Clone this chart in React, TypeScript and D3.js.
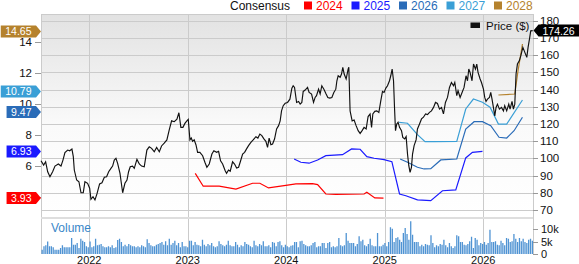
import React from "react";
import * as d3 from "d3";

const W = 579;
const H = 264;
const FONT = "'Liberation Sans', Arial, sans-serif";

// ---- Price (decimal year, $) ----
const priceYears = [
  2021.510, 2021.537, 2021.557, 2021.578, 2021.601, 2021.628, 2021.652, 2021.686, 2021.713, 2021.733,
  2021.753, 2021.781, 2021.801, 2021.824, 2021.838, 2021.848, 2021.872, 2021.895, 2021.916, 2021.939,
  2021.956, 2021.983, 2022.004, 2022.017, 2022.038, 2022.058, 2022.078, 2022.105, 2022.129, 2022.153,
  2022.176, 2022.197, 2022.220, 2022.237, 2022.254, 2022.271, 2022.288, 2022.312, 2022.339, 2022.362,
  2022.383, 2022.399, 2022.416, 2022.440, 2022.457, 2022.484, 2022.508, 2022.531, 2022.558, 2022.585,
  2022.609, 2022.633, 2022.660, 2022.684, 2022.711, 2022.734, 2022.761, 2022.788, 2022.812, 2022.836,
  2022.863, 2022.890, 2022.910, 2022.930, 2022.951, 2022.971, 2022.991, 2023.005, 2023.022, 2023.035,
  2023.049, 2023.065, 2023.083, 2023.100, 2023.123, 2023.151, 2023.174, 2023.194, 2023.218, 2023.245,
  2023.265, 2023.293, 2023.313, 2023.333, 2023.354, 2023.380, 2023.394, 2023.414, 2023.431, 2023.455,
  2023.475, 2023.496, 2023.516, 2023.532, 2023.557, 2023.577, 2023.597, 2023.617, 2023.641, 2023.664,
  2023.692, 2023.712, 2023.732, 2023.752, 2023.773, 2023.793, 2023.810, 2023.826, 2023.844, 2023.861,
  2023.881, 2023.902, 2023.922, 2023.938, 2023.952, 2023.969, 2023.989, 2024.013, 2024.037, 2024.057,
  2024.070, 2024.084, 2024.105, 2024.125, 2024.141, 2024.158, 2024.172, 2024.192, 2024.216, 2024.232,
  2024.257, 2024.277, 2024.293, 2024.307, 2024.328, 2024.344, 2024.361, 2024.382, 2024.402, 2024.422,
  2024.442, 2024.463, 2024.483, 2024.503, 2024.514, 2024.527, 2024.547, 2024.561, 2024.574, 2024.588,
  2024.608, 2024.628, 2024.635, 2024.648, 2024.669, 2024.689, 2024.709, 2024.730, 2024.750, 2024.770,
  2024.790, 2024.811, 2024.831, 2024.851, 2024.866, 2024.879, 2024.899, 2024.919, 2024.940, 2024.960,
  2024.977, 2024.993, 2025.011, 2025.028, 2025.048, 2025.061, 2025.075, 2025.089, 2025.099, 2025.109,
  2025.122, 2025.135, 2025.150, 2025.170, 2025.183, 2025.203, 2025.217, 2025.231, 2025.244, 2025.257,
  2025.271, 2025.282, 2025.298, 2025.318, 2025.332, 2025.353, 2025.373, 2025.393, 2025.414, 2025.434,
  2025.454, 2025.474, 2025.495, 2025.515, 2025.535, 2025.556, 2025.576, 2025.596, 2025.616, 2025.637,
  2025.657, 2025.677, 2025.698, 2025.711, 2025.731, 2025.744, 2025.765, 2025.785, 2025.805, 2025.825,
  2025.840, 2025.853, 2025.866, 2025.886, 2025.901, 2025.921, 2025.934, 2025.947, 2025.968, 2025.982,
  2026.002, 2026.015, 2026.028, 2026.043, 2026.063, 2026.076, 2026.089, 2026.103, 2026.117, 2026.130,
  2026.144, 2026.164, 2026.185, 2026.205, 2026.218, 2026.238, 2026.259, 2026.272, 2026.292, 2026.306,
  2026.320, 2026.333, 2026.347, 2026.367, 2026.381, 2026.402, 2026.422, 2026.442, 2026.455, 2026.469,
  2026.482, 2026.502,
];
const priceValues = [
  98.6, 96.1, 98.0, 92.2, 89.3, 92.2, 95.5, 96.7, 95.5, 99.0,
  103.3, 104.8, 104.4, 105.4, 101.0, 93.2, 87.4, 86.4, 80.0, 80.0,
  86.4, 85.5, 82.6, 76.2, 77.7, 75.8, 79.3, 85.1, 85.8, 89.0,
  89.3, 92.2, 94.2, 95.5, 99.0, 100.0, 97.1, 91.3, 80.0, 85.5,
  87.4, 92.2, 95.1, 95.5, 94.2, 99.4, 96.7, 95.5, 95.1, 104.8,
  106.7, 105.8, 103.8, 106.3, 103.8, 107.2, 108.8, 110.7, 116.5, 121.8,
  121.3, 122.7, 126.5, 118.0, 118.0, 120.3, 121.8, 122.7, 110.7, 111.8,
  109.9, 110.8, 107.9, 103.5, 103.5, 101.5, 97.7, 94.8, 96.7, 102.5,
  104.4, 103.5, 104.1, 98.6, 96.7, 92.8, 91.3, 93.2, 92.5, 98.0,
  96.7, 94.4, 94.8, 97.7, 102.5, 103.5, 105.5, 107.4, 109.3, 110.7,
  112.6, 111.8, 114.1, 113.2, 111.3, 109.9, 106.4, 111.8, 107.9, 108.3,
  111.2, 117.1, 119.0, 121.8, 127.6, 130.6, 132.0, 132.5, 134.4, 140.8,
  142.2, 141.2, 132.5, 133.1, 131.5, 132.5, 138.9, 139.7, 141.2, 138.3,
  137.4, 132.5, 135.4, 136.4, 140.2, 137.4, 142.2, 140.2, 137.7, 135.4,
  135.0, 135.4, 138.3, 140.2, 145.1, 148.0, 147.1, 149.0, 152.9, 149.0,
  146.1, 151.9, 152.9, 127.6, 121.8, 122.3, 119.0, 116.1, 114.5, 116.1,
  118.0, 117.1, 124.3, 125.8, 118.0, 125.8, 127.3, 127.6, 126.7, 133.5,
  138.9, 138.3, 140.8, 142.2, 145.1, 148.0, 151.9, 145.1, 129.6, 116.1,
  120.0, 121.0, 118.0, 116.1, 112.2, 111.3, 112.6, 102.5, 95.7, 91.9,
  94.8, 102.5, 107.4, 110.7, 117.1, 120.0, 122.9, 123.9, 125.8, 125.4,
  126.7, 127.6, 129.6, 132.5, 131.9, 128.6, 129.6, 125.8, 132.5, 135.4,
  141.2, 144.1, 142.2, 144.1, 136.4, 139.3, 135.4, 138.3, 141.2, 148.0,
  145.1, 151.9, 150.0, 145.1, 154.8, 151.9, 154.8, 150.0, 146.1, 144.1,
  140.2, 135.4, 133.1, 134.4, 135.4, 138.3, 134.4, 129.6, 124.7, 129.6,
  131.5, 128.6, 129.6, 127.6, 130.6, 127.6, 131.5, 128.6, 133.1, 128.6,
  131.5, 149.0, 154.8, 156.8, 159.6, 164.5, 161.6, 158.7, 164.5, 169.3,
  174.1, 174.26,
];

// ---- Consensus EPS estimates (decimal year, EPS) ----
const eps2024Years = [2023.076, 2023.157, 2023.319, 2023.489, 2023.658, 2023.732, 2023.820, 2023.996, 2024.098, 2024.267, 2024.318, 2024.402, 2024.503, 2024.790, 2024.818, 2024.899, 2024.987];
const eps2024Values = [5.52, 4.69, 4.69, 4.51, 4.88, 4.88, 4.58, 4.75, 4.84, 4.86, 4.79, 4.19, 4.17, 4.19, 4.30, 3.94, 3.93];
const eps2025Years = [2024.080, 2024.148, 2024.232, 2024.318, 2024.402, 2024.571, 2024.663, 2024.750, 2024.818, 2024.892, 2024.993, 2025.072, 2025.150, 2025.214, 2025.332, 2025.467, 2025.586, 2025.721, 2025.822, 2025.890, 2025.992];
const eps2025Values = [6.44, 6.23, 6.17, 6.38, 6.66, 6.72, 7.09, 7.07, 6.59, 6.49, 6.40, 6.27, 4.19, 4.08, 3.81, 3.76, 4.40, 4.45, 6.51, 6.87, 6.93];
const eps2026Years = [2025.156, 2025.231, 2025.332, 2025.399, 2025.467, 2025.569, 2025.731, 2025.822, 2025.907, 2025.992, 2026.076, 2026.160, 2026.238, 2026.313, 2026.398];
const eps2026Values = [6.44, 6.23, 5.91, 5.80, 5.82, 6.38, 6.44, 8.37, 8.84, 8.84, 8.59, 7.84, 7.79, 8.26, 9.13];
const eps2027Years = [2025.146, 2025.231, 2025.332, 2025.409, 2025.501, 2025.731, 2025.822, 2025.900, 2025.992, 2026.069, 2026.154, 2026.238, 2026.398];
const eps2027Values = [8.80, 8.74, 8.01, 7.56, 7.56, 7.58, 9.66, 10.30, 10.09, 9.77, 8.69, 8.69, 10.24];
const eps2028Years = [2026.154, 2026.320, 2026.353, 2026.398];
const eps2028Values = [10.56, 10.62, 12.12, 13.84];

const seriesNames = ["2024", "2025", "2026", "2027", "2028"];
const seriesColors = ["#ff0000", "#1a1aff", "#2a6cb8", "#3a9fd6", "#b5822d"];
const latestEps = [3.93, 6.93, 9.47, 10.79, 14.65];
const latestPrice = 174.26;

// ---- Volume (thousands), one bar per week ----
const volumeValues = [
  1.7, 3.1, 3.5, 5.0, 3.1, 3.1, 2.7, 1.7, 1.7,
  1.7, 2.4, 3.5, 2.7, 2.7, 2.7, 2.7, 6.4, 3.7,
  3.7, 4.4, 2.4, 6.1, 5.3, 4.8, 3.1, 2.7, 5.0,
  2.7, 3.1, 6.1, 3.5, 3.7, 4.0, 3.1, 2.7, 2.7,
  3.1, 2.7, 3.5, 2.4, 2.7, 5.6, 6.1, 4.8, 3.1,
  3.7, 3.1, 4.0, 3.5, 3.1, 3.1, 2.7, 3.1, 2.7,
  3.5, 3.1, 2.7, 5.9, 4.4, 3.5, 3.1, 3.1, 3.7,
  4.0, 4.4, 4.8, 3.7, 5.1, 3.5, 6.1, 3.7, 4.4,
  5.3, 3.5, 4.4, 2.7, 4.8, 3.1, 3.1, 2.7, 5.3,
  5.3, 3.5, 4.8, 3.7, 3.5, 3.1, 5.7, 3.7, 3.1,
  4.0, 3.5, 4.4, 3.1, 2.7, 3.1, 5.1, 4.0, 3.5,
  3.1, 3.7, 5.3, 3.5, 3.1, 3.1, 4.8, 3.7, 2.7,
  3.5, 3.1, 4.8, 4.0, 3.7, 3.1, 2.7, 5.3, 3.5,
  3.1, 4.0, 3.5, 5.1, 3.1, 3.1, 3.5, 2.7, 4.8,
  4.5, 3.1, 4.8, 5.1, 3.5, 2.7, 3.7, 3.1, 2.7,
  3.3, 3.5, 4.8, 4.8, 2.7, 5.1,
  5.3, 4.0, 3.5, 3.1, 3.1, 3.5, 4.4, 4.8, 2.7,
  3.1, 3.1, 4.4, 4.4, 2.4, 4.4, 4.8, 2.7, 3.1,
  2.7, 3.1, 6.4, 3.5, 3.1, 3.5, 8.4, 5.3, 4.4,
  4.4, 4.4, 3.1, 4.0, 7.1, 5.1, 5.7, 3.5, 3.1,
  4.0, 6.1, 3.5, 3.1, 3.1, 8.4, 3.1, 3.1, 3.7,
  4.4, 3.1, 4.8, 10.7, 10.1, 4.8, 6.4, 6.7, 5.7,
  4.8, 8.4, 10.4, 8.0, 5.7, 13.1, 7.7, 4.8, 4.8,
  4.8, 3.1, 3.7, 3.1, 4.0, 3.7, 3.5, 7.5, 4.4,
  2.7, 3.5, 3.1, 4.0, 3.7, 5.7, 3.5, 2.7, 4.4,
  3.1, 2.4, 3.1, 7.5, 7.1, 4.8, 4.8, 3.7, 3.5,
  4.0, 5.1, 6.9, 2.4, 6.4, 5.7, 3.5, 4.4, 4.0,
  4.8, 3.7, 4.4, 9.7, 4.8, 4.8, 5.1, 3.7, 3.5,
  5.3, 4.4, 3.5, 6.4, 6.1, 4.8, 5.1, 8.0, 6.1,
  4.8, 6.4, 5.1, 6.1, 4.8, 4.4, 5.7, 6.1, 5.3,
];

const yearTicks = [2022, 2023, 2024, 2025, 2026];
const priceTicks = [70, 80, 90, 100, 110, 120, 130, 140, 150, 160, 170, 180];
const epsTicks = [4, 6, 8, 10, 12, 14];
const volumeTicks = [0, 5, 10];
const volumeTickLabels = ["0", "5k", "10k"];

function tagPath(x0: number, x1: number, tip: number, c: number, h: number) {
  return `M${x0},${c - h}L${x1},${c - h}L${tip},${c}L${x1},${c + h}L${x0},${c + h}Z`;
}

export default function App() {
  const L = 41, R = 533, T = 14, PB = 217, VT = 219, VB = 254;
  const x = d3.scaleLinear().domain([2021.51, 2026.505]).range([L, R]);
  const yP = d3.scaleLinear().domain([65.9, 183.9]).range([PB, T]);
  const yE = d3.scaleLinear().domain([2.71, 15.77]).range([PB, T]);
  const yV = d3.scaleLinear().domain([0, 14]).range([VB, VB - 35]);
  const band = d3.scaleBand<number>().domain(volumeValues.map((_, i) => i)).range([L + 0.5, R]).paddingInner(0.3);

  const priceLine = d3.line<number>().x((_, i) => x(priceYears[i])).y((v) => yP(v));
  const epsSeries = [
    [eps2024Years, eps2024Values],
    [eps2025Years, eps2025Values],
    [eps2026Years, eps2026Values],
    [eps2027Years, eps2027Values],
    [eps2028Years, eps2028Values],
  ];
  const charW = 5.84, dotW = 2.92;
  const tw = (s: string) => s.split("").reduce((a, ch) => a + (ch === "." ? dotW : charW), 0);

  return (
    <svg width={W} height={H} style={{ display: "block", position: "absolute", left: 0, top: 0 }} fontFamily={FONT}>
      <defs>
        <linearGradient id="bg" x1="0" y1="0" x2="0" y2="1">
          <stop offset="0" stopColor="#e2e2e2" />
          <stop offset="0.55" stopColor="#fafafa" />
          <stop offset="1" stopColor="#ffffff" />
        </linearGradient>
      </defs>
      <rect x={0} y={0} width={W} height={H} fill="#fff" />
      <rect x={L} y={T} width={R - L} height={PB - T} fill="url(#bg)" />
      {/* horizontal grid */}
      {priceTicks.map((p) => (
        <line key={p} x1={L} x2={R} y1={Math.round(yP(p)) + 0.5} y2={Math.round(yP(p)) + 0.5} stroke="#cbcbcb" />
      ))}
      <line x1={L} x2={R} y1={T + 0.5} y2={T + 0.5} stroke="#cbcbcb" />
      {/* vertical grid */}
      {yearTicks.map((yr) => (
        <line key={yr} x1={Math.round(x(yr)) + 0.5} x2={Math.round(x(yr)) + 0.5} y1={T} y2={VB} stroke="#cbcbcb" />
      ))}
      <line x1={L + 0.5} x2={L + 0.5} y1={T} y2={VB} stroke="#cbcbcb" />
      <line x1={R + 0.5} x2={R + 0.5} y1={T} y2={VB} stroke="#cbcbcb" />
      <rect x={L} y={PB} width={R - L} height={VT - PB} fill="#dedede" />

      {/* volume */}
      {volumeValues.map((v, i) => (
        <rect key={i} x={band(i)} y={yV(v)} width={band.bandwidth()} height={yV(0) - yV(v)} fill="#4f93d3" />
      ))}
      <text x={51} y={232} fontSize={12} fill="#3a87c9">Volume</text>

      {/* EPS lines */}
      {epsSeries.map(([yrs, vals], k) => (
        <path
          key={k}
          d={d3.line<number>().x((_, i) => x(yrs[i])).y((v) => yE(v))(vals) || ""}
          fill="none"
          stroke={seriesColors[k]}
          strokeWidth={1.2}
        />
      ))}
      {/* price */}
      <path d={priceLine(priceValues) || ""} fill="none" stroke="#111" strokeWidth={1.15} />

      {/* right axis */}
      {priceTicks.map((p) => (
        <g key={p}>
          <line x1={R} x2={R + 5} y1={Math.round(yP(p)) + 0.5} y2={Math.round(yP(p)) + 0.5} stroke="#999" />
          <text x={540} y={yP(p) + 4} fontSize={11.5} fill="#111">{p}</text>
        </g>
      ))}
      {volumeTicks.map((v, i) => (
        <g key={v}>
          <line x1={R} x2={R + 5} y1={Math.round(yV(v)) + 0.5} y2={Math.round(yV(v)) + 0.5} stroke="#999" />
          <text x={541} y={yV(v) + 4} fontSize={11} fill="#111">{volumeTickLabels[i]}</text>
        </g>
      ))}
      {/* left axis */}
      {epsTicks.map((e) => (
        <g key={e}>
          <line x1={35} x2={L} y1={Math.round(yE(e)) + 0.5} y2={Math.round(yE(e)) + 0.5} stroke="#999" />
          <text x={32} y={yE(e) + 4} fontSize={11.5} textAnchor="end" fill="#111">{e}</text>
        </g>
      ))}
      {/* x axis labels */}
      {yearTicks.map((yr) => (
        <text key={yr} x={x(yr)} y={264} fontSize={11} textAnchor="middle" fill="#111">{yr}</text>
      ))}

      {/* left tags */}
      {latestEps.map((e, k) => {
        const s = e.toFixed(2);
        const c = yE(e);
        const x1 = 36;
        const x0 = x1 - tw(s) - 9;
        return (
          <g key={k}>
            <path d={tagPath(x0, x1, L, c, 6)} fill={seriesColors[k]} />
            <text x={x0 + 4.5} y={c + 4} fontSize={10.5} fill="#fff">{s}</text>
          </g>
        );
      })}
      {/* right price tag */}
      {(() => {
        const c = yP(latestPrice);
        return (
          <g>
            <path d={tagPath(W, 538.5, 533.5, c, 6)} fill="#000" />
            <text x={542.5} y={c + 4} fontSize={10.5} fill="#fff">{latestPrice.toFixed(2)}</text>
          </g>
        );
      })()}

      {/* top legend */}
      <text x={230} y={9.5} fontSize={12} fill="#111">Consensus</text>
      {seriesNames.map((n, k) => {
        const sx = 304 + k * 47.5;
        return (
          <g key={n}>
            <rect x={sx} y={1.5} width={8} height={8} fill={seriesColors[k]} />
            <text x={sx + 12} y={9.5} fontSize={12} fill={seriesColors[k]}>{n}</text>
          </g>
        );
      })}
      {/* price legend */}
      <rect x={470.5} y={22.5} width={9.5} height={5.5} fill="#111" />
      <text x={486} y={29.5} fontSize={11.5} fill="#111">Price ($)</text>
    </svg>
  );
}
